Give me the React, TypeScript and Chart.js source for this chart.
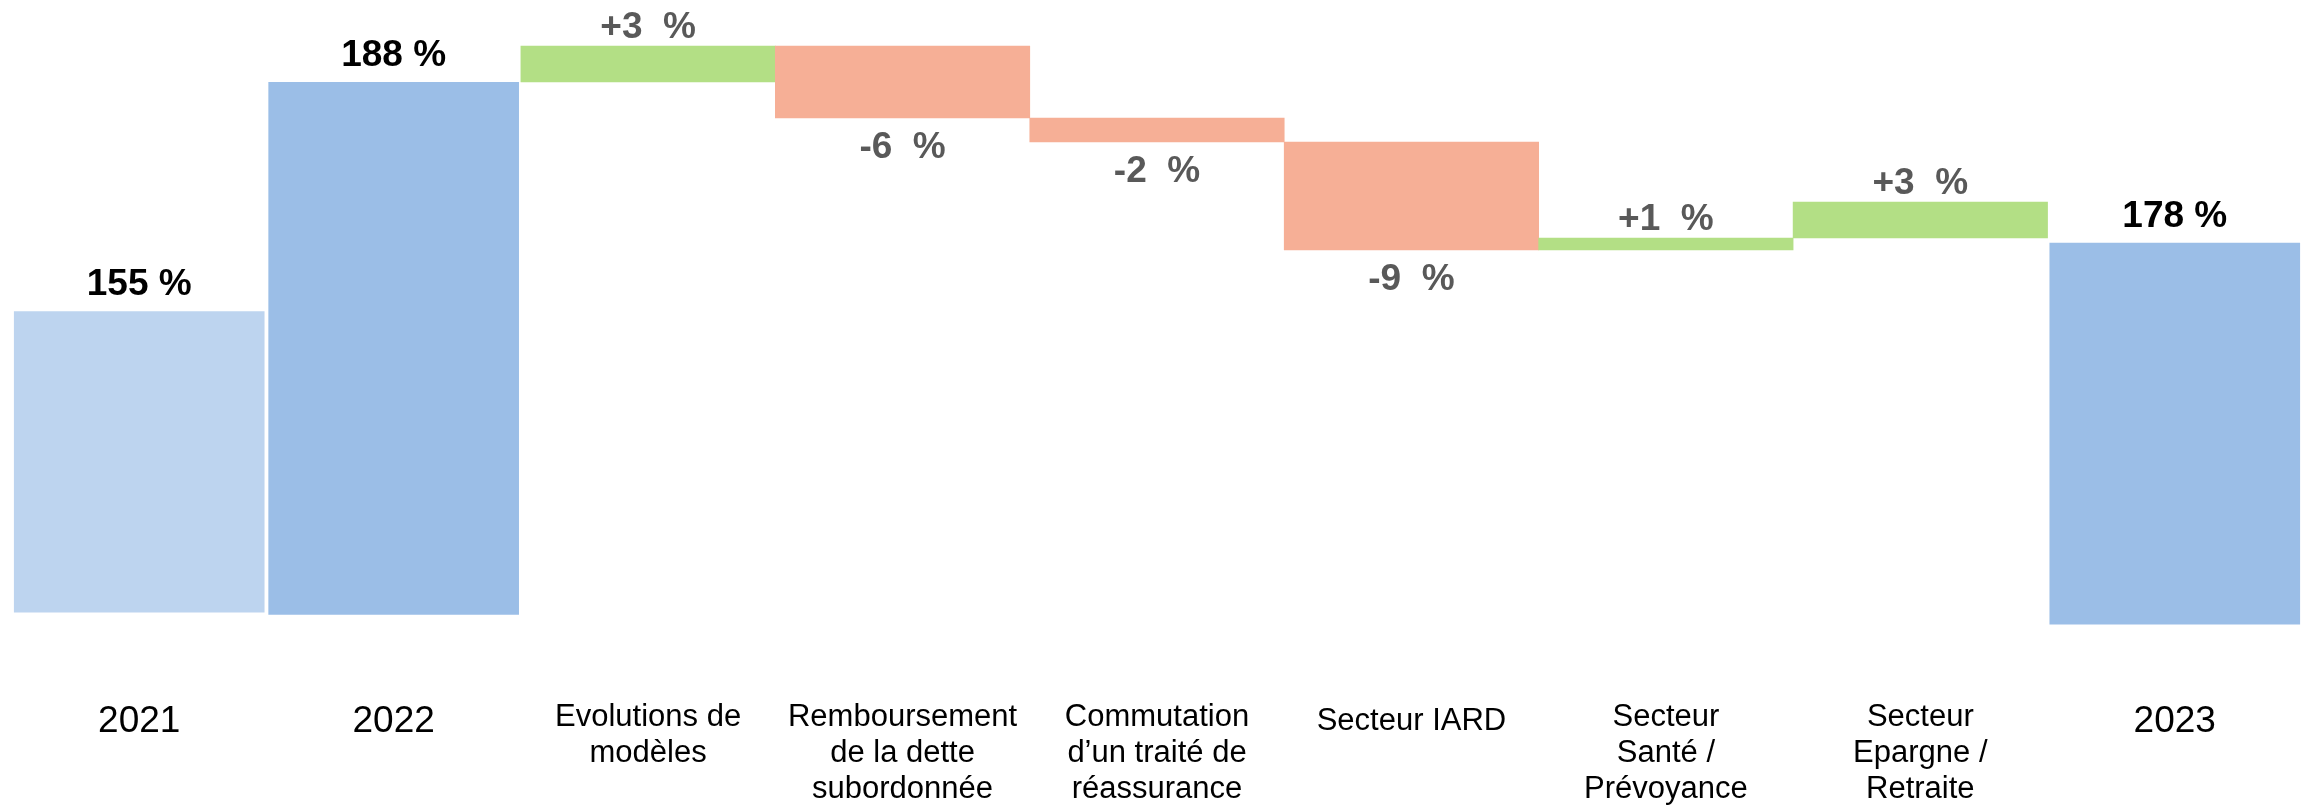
import React, { useEffect, useRef } from 'react';
import { Chart, registerables } from 'chart.js';

Chart.register(...registerables);

// ---- Data ----
const categories: string[][] = [
  ['2021'],
  ['2022'],
  ['Evolutions de', 'modèles'],
  ['Remboursement', 'de la dette', 'subordonnée'],
  ['Commutation', 'd’un traité de', 'réassurance'],
  ['Secteur IARD'],
  ['Secteur', 'Santé /', 'Prévoyance'],
  ['Secteur', 'Epargne /', 'Retraite'],
  ['2023'],
];

// Labelled totals (ratio, %)
const totalValues: (number | null)[] = [155, 188, null, null, null, null, null, null, 178];
// Total bars as drawn in the picture (bottom, top) on the chart's value axis
const totalBarBottoms: (number | null)[] = [143.8, 143.6, null, null, null, null, null, null, 142.8];
const totalBarTops: (number | null)[] = [168.9, 188, null, null, null, null, null, null, 174.6];

// Waterfall variations (percentage points), starting from the 2022 level
const waterfallStart = 188;
const deltaValues: (number | null)[] = [null, null, 3, -6, -2, -9, 1, 3, null];

const totalColors = ['#BDD4EF', '#9BBEE7', null, null, null, null, null, null, '#9BBEE7'];
const positiveColor = '#B3DF85';
const negativeColor = '#F6AF96';

// ---- Derived structures ----
const totalRanges = totalBarTops.map((t, i) =>
  t === null ? null : [totalBarBottoms[i] as number, t]
);
const deltaRanges: ([number, number] | null)[] = (() => {
  let level = waterfallStart;
  return deltaValues.map((d) => {
    if (d === null) return null;
    const r: [number, number] = [level, level + d];
    level += d;
    return r;
  });
})();

const FONT = "'Liberation Sans', 'DejaVu Sans', sans-serif";

const labelPlugin = {
  id: 'wfLabels',
  afterDatasetsDraw(chart: any) {
    const ctx = chart.ctx;
    ctx.save();
    ctx.textAlign = 'center';
    ctx.textBaseline = 'middle';
    const m0 = chart.getDatasetMeta(0);
    m0.data.forEach((el: any, i: number) => {
      const v = totalValues[i];
      if (v === null || !el) return;
      const top = Math.min(el.y, el.base);
      ctx.font = `bold 37px ${FONT}`;
      ctx.fillStyle = '#000000';
      ctx.fillText(`${v} %`, el.x, top - 26);
    });
    const m1 = chart.getDatasetMeta(1);
    m1.data.forEach((el: any, i: number) => {
      const d = deltaValues[i];
      if (d === null || !el) return;
      const top = Math.min(el.y, el.base);
      const bottom = Math.max(el.y, el.base);
      ctx.font = `bold 37px ${FONT}`;
      ctx.fillStyle = '#595959';
      const txt = (d > 0 ? `+${d}` : `${d}`) + '  %';
      if (d > 0) ctx.fillText(txt, el.x, top - 18);
      else ctx.fillText(txt, el.x, bottom + 30);
    });
    ctx.restore();
  },
};

export default function App() {
  const ref = useRef<HTMLCanvasElement | null>(null);
  useEffect(() => {
    if (!ref.current) return;
    const chart = new Chart(ref.current, {
      type: 'bar',
      data: {
        labels: categories as any,
        datasets: [
          {
            label: 'Totaux',
            data: totalRanges as any,
            backgroundColor: totalColors as any,
            borderWidth: 0,
            barPercentage: 0.985,
            categoryPercentage: 1,
            grouped: false,
          } as any,
          {
            label: 'Variations',
            data: deltaRanges as any,
            backgroundColor: deltaValues.map((d) => (d !== null && d > 0 ? positiveColor : negativeColor)),
            borderWidth: 0,
            barPercentage: 1,
            categoryPercentage: 1,
            grouped: false,
          } as any,
        ],
      },
      options: {
        animation: false,
        responsive: false,
        maintainAspectRatio: false,
        layout: { padding: { left: 12, right: 8, top: 0, bottom: 0 } },
        plugins: {
          legend: { display: false },
          tooltip: { enabled: false },
          title: { display: false },
        },
        scales: {
          x: {
            grid: { display: false, drawTicks: false },
            border: { display: false },
            afterFit: (scale: any) => {
              scale.height = 105;
            },
            ticks: {
              padding: 0,
              autoSkip: false,
              maxRotation: 0,
              minRotation: 0,
              color: '#000000',
              font: (c: any) => {
                const lbl = categories[c.index] || [];
                const isYear = lbl.length === 1 && /^\d{4}$/.test(lbl[0]);
                const single = lbl.length === 1;
                return {
                  family: FONT,
                  size: isYear ? 37 : 31,
                  lineHeight: isYear ? 1.2 : single ? 1.4 : 1.15,
                };
              },
            },
          },
          y: {
            display: false,
            min: 136.5,
            max: 194.8333,
          },
        },
      },
      plugins: [labelPlugin],
    });
    return () => chart.destroy();
  }, []);
  return (
    <div style={{ position: 'fixed', left: 0, top: 0, width: 2310, height: 805, background: '#ffffff' }}>
      <canvas ref={ref} width={2310} height={805} style={{ width: 2310, height: 805, display: 'block' }} />
    </div>
  );
}
